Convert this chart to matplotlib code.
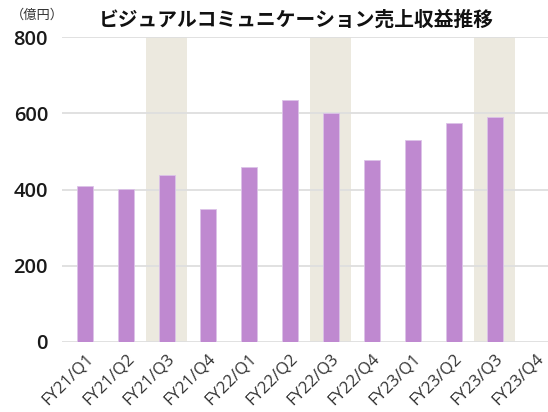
import matplotlib.pyplot as plt

plt.rcParams['font.family'] = ['Open Sans', 'Noto Sans CJK JP', 'DejaVu Sans']

quarters = ['FY21/Q1', 'FY21/Q2', 'FY21/Q3', 'FY21/Q4',
            'FY22/Q1', 'FY22/Q2', 'FY22/Q3', 'FY22/Q4',
            'FY23/Q1', 'FY23/Q2', 'FY23/Q3', 'FY23/Q4']
revenue = [409, 401, 438, 349, 459, 635, 601, 478, 530, 575, 590, None]
shaded = ['FY21/Q3', 'FY22/Q3', 'FY23/Q3']
yticks = [0, 200, 400, 600, 800]

fig = plt.figure(figsize=(5.48, 4.12), dpi=100)
ax = fig.add_axes([0.113, 0.170, 0.887, 0.740])

x = list(range(len(quarters)))
for i, q in enumerate(quarters):
    if q in shaded:
        ax.axvspan(i - 0.5, i + 0.5, color='#ece9df', zorder=0, lw=0)

vals = [v if v is not None else 0 for v in revenue]
ax.bar(x, vals, width=0.39, color='#bf89d0', edgecolor='#dcc3e8', linewidth=0.6, zorder=3)

ax.set_xlim(-0.56, 11.3)
ax.set_ylim(0, 800)
ax.set_yticks(yticks)
ax.set_yticklabels([str(v) for v in yticks], fontsize=14.5, fontweight='semibold', color='#1a1a1a')
ax.set_xticks(x)
ax.set_xticklabels(quarters, rotation=45, ha='right', rotation_mode='anchor',
                   fontsize=12, color='#333333')
ax.tick_params(axis='both', length=0)
ax.tick_params(axis='x', pad=6)
ax.tick_params(axis='y', pad=10)

ax.grid(axis='y', color='#dedede', linewidth=1.3, zorder=1)
ax.set_axisbelow(True)
for s in ax.spines.values():
    s.set_visible(False)

fig.text(0.54, 0.952, 'ビジュアルコミュニケーション売上収益推移', ha='center', va='center',
         family=['Noto Sans CJK JP'], fontsize=14.2, fontweight='bold', color='#111111')
fig.text(0.068, 0.962, '（億円）', ha='center', va='center',
         family=['Noto Sans CJK JP'], fontsize=9.5, color='#333333')

fig.savefig('out.png', dpi=100)
